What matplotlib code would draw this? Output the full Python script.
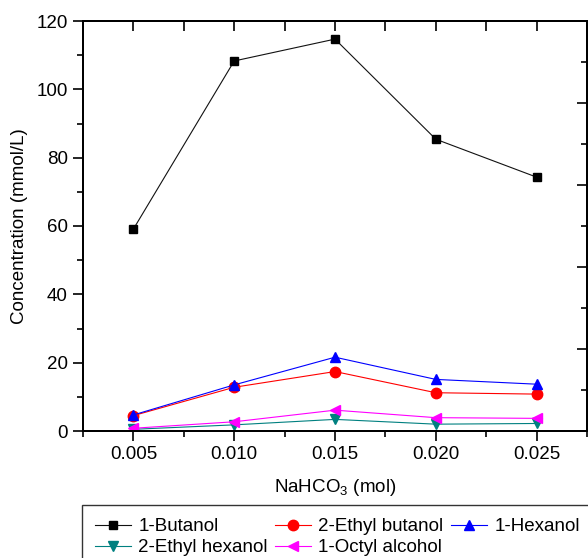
import numpy as np
import matplotlib
matplotlib.use("Agg")
import matplotlib.pyplot as plt
from matplotlib.ticker import MultipleLocator, NullFormatter

plt.rcParams['font.family'] = ['Liberation Sans', 'DejaVu Sans']
plt.rcParams['mathtext.fontset'] = 'custom'
plt.rcParams['mathtext.rm'] = 'Liberation Sans'
plt.rcParams['mathtext.it'] = 'Liberation Sans'

x = [0.005, 0.010, 0.015, 0.020, 0.025]
butanol = [59.1, 108.3, 114.7, 85.4, 74.3]
ethyl_butanol = [4.5, 12.8, 17.4, 11.2, 10.8]
hexanol = [4.7, 13.5, 21.6, 15.1, 13.7]
ethyl_hexanol = [0.5, 1.8, 3.4, 2.0, 2.2]
octyl = [0.8, 2.7, 6.1, 3.9, 3.7]
xticks = [0.005, 0.010, 0.015, 0.020, 0.025]
xticklabels = ["0.005", "0.010", "0.015", "0.020", "0.025"]

fig = plt.figure(figsize=(5.88, 5.58), dpi=100)
ax = fig.add_axes([83/588, 1-431/558, 504/588, 410/558])

lw = 0.8
h1, = ax.plot(x, butanol, color='#111111', lw=lw, marker='s', ms=6, mfc='black', mec='black', label='1-Butanol')
h2, = ax.plot(x, ethyl_butanol, color='#FF0000', lw=lw, marker='o', ms=7.5, mfc='#FF0000', mec='#FF0000', label='2-Ethyl butanol')
h3, = ax.plot(x, hexanol, color='#0000FF', lw=lw, marker='^', ms=7.5, mfc='#0000FF', mec='#0000FF', label='1-Hexanol')
h4, = ax.plot(x, ethyl_hexanol, color='#008080', lw=lw, marker='v', ms=7.5, mfc='#008080', mec='#008080', label='2-Ethyl hexanol')
h5, = ax.plot(x, octyl, color='#FF00FF', lw=lw, marker='<', ms=7.5, mfc='#FF00FF', mec='#FF00FF', label='1-Octyl alcohol')

ax.set_xlim(0.0025, 0.0275)
ax.set_ylim(0, 120)
ax.set_xticks(xticks)
ax.set_xticklabels(xticklabels)
ax.xaxis.set_minor_locator(MultipleLocator(0.0025))
ax.yaxis.set_major_locator(MultipleLocator(20))
ax.yaxis.set_minor_locator(MultipleLocator(10))
ax.tick_params(axis='both', which='major', direction='out', length=7, width=1.2, labelsize=13.5, pad=4)
ax.tick_params(axis='both', which='minor', direction='out', length=4, width=1.2)
for s in ax.spines.values():
    s.set_linewidth(1.3)

ax.set_xlabel('NaHCO$_3$ (mol)', fontsize=13.5, labelpad=10)
ax.set_ylabel('Concentration (mmol/L)', fontsize=13.5, labelpad=6)

# top mirrored ticks (inward)
axt = ax.twiny()
axt.set_xlim(ax.get_xlim())
axt.set_xticks(np.arange(0.005, 0.02501, 0.0025))
axt.xaxis.set_major_formatter(NullFormatter())
axt.tick_params(axis='x', which='major', direction='in', length=7, width=1.2, top=True, labeltop=False)
axt.tick_params(axis='x', which='minor', top=False)

# right mirrored ticks (inward)
axr = ax.twinx()
axr.set_ylim(0, 5)
axr.yaxis.set_major_locator(MultipleLocator(1))
axr.yaxis.set_minor_locator(MultipleLocator(0.5))
axr.yaxis.set_major_formatter(NullFormatter())
axr.tick_params(axis='y', which='major', direction='in', length=7, width=1.2)
axr.tick_params(axis='y', which='minor', direction='in', length=4, width=1.2)
for a in (axt, axr):
    for s in a.spines.values():
        s.set_linewidth(1.3)

handles = [h1, h4, h2, h5, h3]
leg = fig.legend(handles=handles, labels=[h.get_label() for h in handles],
                 ncol=3, loc='upper left', bbox_to_anchor=(82/588, 1-505/558),
                 fontsize=13.5, frameon=True, fancybox=False, edgecolor='black',
                 handlelength=1.9, handletextpad=0.4, columnspacing=0.4,
                 labelspacing=0.2, borderpad=0.7, borderaxespad=0)
leg.get_frame().set_linewidth(1.0)

fig.savefig('out.png', dpi=100)
